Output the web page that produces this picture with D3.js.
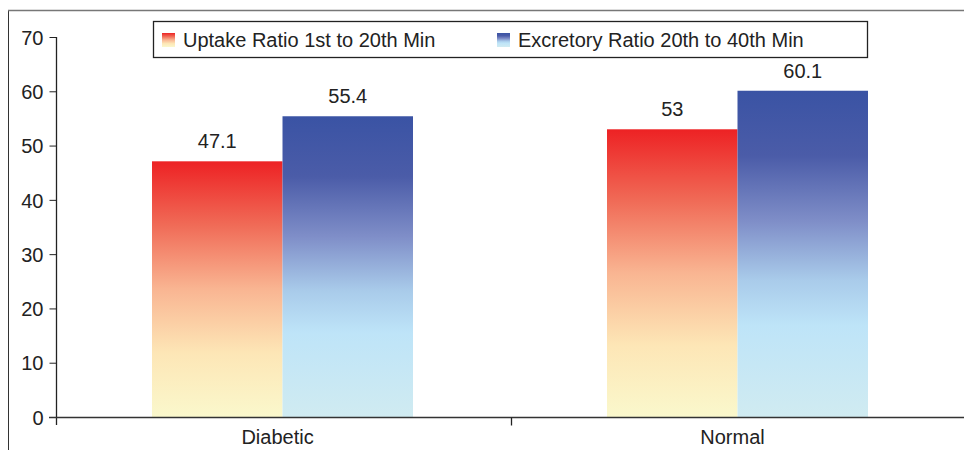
<!DOCTYPE html>
<html><head><meta charset="utf-8">
<script src="https://cdnjs.cloudflare.com/ajax/libs/d3/7.8.5/d3.min.js"></script>
<style>body{margin:0;background:#fff}svg{display:block;font-family:"Liberation Sans",Arial,sans-serif}</style>
</head><body>
<svg id="c" width="964" height="450"></svg>
<script>
const categories = ["Diabetic", "Normal"];
const seriesNames = ["Uptake Ratio 1st to 20th Min", "Excretory Ratio 20th to 40th Min"];
const uptake = [47.1, 53];
const excretory = [55.4, 60.1];
const valueLabels = [["47.1", "55.4"], ["53", "60.1"]];
const yTicks = [0, 10, 20, 30, 40, 50, 60, 70];

const svg = d3.select("#c");
const FONT = "Liberation Sans, Arial, sans-serif";
const x0 = 56, x1 = 966, yTop = 37, yBot = 417;
const x = d3.scaleBand().domain(categories).range([x0, x1]).paddingInner(0).paddingOuter(0);
const sub = d3.scaleBand().domain([0, 1]).range([96, 96 + 261]);
const y = d3.scaleLinear().domain([0, 70]).range([yBot, yTop]);

const defs = svg.append("defs");
const gradRed = defs.append("linearGradient").attr("id", "gRed").attr("x1", 0).attr("y1", 0).attr("x2", 0).attr("y2", 1);
[[0, "#ed2224"], [0.25, "#f06b57"], [0.5, "#f9b592"], [0.75, "#fde6b6"], [1, "#faf8cc"]]
  .forEach(s => gradRed.append("stop").attr("offset", s[0]).attr("stop-color", s[1]));
const gradBlue = defs.append("linearGradient").attr("id", "gBlue").attr("x1", 0).attr("y1", 0).attr("x2", 0).attr("y2", 1);
[[0, "#3a53a4"], [0.2, "#4b5ca8"], [0.4, "#7f8ec8"], [0.58, "#a9cbea"], [0.72, "#bee4f8"], [1, "#d0ebf1"]]
  .forEach(s => gradBlue.append("stop").attr("offset", s[0]).attr("stop-color", s[1]));
const fills = ["url(#gRed)", "url(#gBlue)"];

// outer frame
svg.append("line").attr("x1", 8.5).attr("x2", 8.5).attr("y1", 10).attr("y2", 450).attr("stroke", "#333").attr("stroke-width", 1);
svg.append("line").attr("x1", 8).attr("x2", 964).attr("y1", 10.5).attr("y2", 10.5).attr("stroke", "#777").attr("stroke-width", 1.5);

// bars
const data = categories.map((c, i) => ({ c, vals: [uptake[i], excretory[i]] }));
const g = svg.append("g");
data.forEach((d, i) => {
  d.vals.forEach((v, j) => {
    const bx = x(d.c) + sub(j);
    g.append("rect").attr("x", bx).attr("width", sub.bandwidth())
      .attr("y", y(v)).attr("height", y(0) - y(v)).attr("fill", fills[j]);
    g.append("text").attr("x", bx + sub.bandwidth() / 2).attr("y", y(v) - 13)
      .attr("text-anchor", "middle").attr("font-size", 20).attr("fill", "#222").text(valueLabels[i][j]);
  });
});

// y axis
const yAxis = d3.axisLeft(y).tickValues(yTicks).tickSize(7).tickPadding(6);
const ya = svg.append("g").attr("transform", `translate(${x0 + 0.5},0)`).call(yAxis);
ya.select(".domain").remove();
ya.append("line").attr("x1", 0).attr("x2", 0).attr("y1", yTop).attr("y2", yBot + 8).attr("stroke", "#222").attr("stroke-width", 1.3);
ya.selectAll(".tick line").attr("stroke", "#222");
ya.selectAll(".tick text").attr("font-size", 20).attr("fill", "#222").attr("font-family", FONT).attr("dy", "0.36em");

// x axis
const xAxis = d3.axisBottom(x).tickSize(0).tickPadding(0);
const xa = svg.append("g").attr("transform", `translate(0,${yBot + 0.5})`).call(xAxis);
xa.select(".domain").remove();
xa.append("line").attr("x1", x0 - 7).attr("x2", 964).attr("y1", 0).attr("y2", 0).attr("stroke", "#333").attr("stroke-width", 1.6);
xa.append("line").attr("x1", x(categories[1]) + 0.5).attr("x2", x(categories[1]) + 0.5).attr("y1", 0).attr("y2", 8).attr("stroke", "#222").attr("stroke-width", 1.3);
xa.selectAll(".tick text").attr("font-size", 20).attr("fill", "#222").attr("font-family", FONT)
  .attr("x", -6).attr("y", 26).attr("dy", 0);

// legend
const lg = svg.append("g");
lg.append("rect").attr("x", 153.5).attr("y", 21.5).attr("width", 714).attr("height", 36).attr("fill", "#fff").attr("stroke", "#222").attr("stroke-width", 1.3);
const legX = [162, 497];
seriesNames.forEach((n, j) => {
  lg.append("rect").attr("x", legX[j]).attr("y", 33).attr("width", 13).attr("height", 14).attr("fill", fills[j]);
  lg.append("text").attr("x", legX[j] + 21).attr("y", 47).attr("font-size", 20).attr("fill", "#222").text(n);
});
</script>
</body></html>
